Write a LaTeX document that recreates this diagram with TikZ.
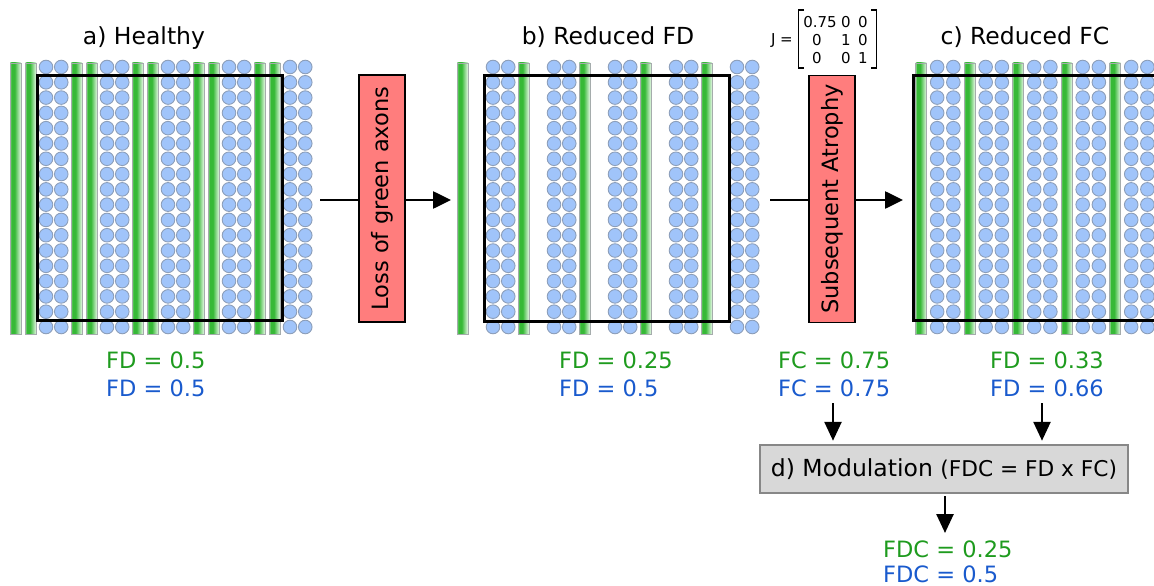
\documentclass[tikz,border=0pt]{standalone}
\usepackage{fontspec}
\setmainfont{DejaVu Sans}
\usetikzlibrary{arrows.meta}
\definecolor{barA}{RGB}{160,220,160}
\definecolor{barB}{RGB}{55,185,55}
\definecolor{barC}{RGB}{232,248,232}
\definecolor{baredge}{RGB}{165,172,172}
\definecolor{circfill}{RGB}{160,196,250}
\definecolor{circedge}{RGB}{140,158,185}
\definecolor{boxred}{RGB}{255,125,125}
\definecolor{modfill}{RGB}{216,216,216}
\definecolor{modedge}{RGB}{135,135,135}
\definecolor{fdgreen}{RGB}{30,155,30}
\definecolor{fdblue}{RGB}{25,90,205}
\pgfdeclarehorizontalshading{barshade}{100bp}{color(0bp)=(barA); color(25bp)=(barA); color(31bp)=(barB); color(46bp)=(barB); color(75bp)=(barC); color(100bp)=(barC)}
\newcommand\axbar[1]{\shadedraw[shading=barshade,draw=baredge,line width=0.9pt] (#1-5.5,63) rectangle (#1+5.5,334);}
\newcommand\circcol[1]{\foreach \rr in {0,...,17}{\filldraw[fill=circfill,draw=circedge,line width=0.9pt] (#1,67+\rr*15.294) circle[radius=6.8];}}
\begin{document}
\begin{tikzpicture}[x=1pt,y=-1pt,
 title/.style={font=\fontsize{23.5pt}{28pt}\selectfont, anchor=base, inner sep=0pt},
 val/.style={font=\fontsize{22.5pt}{27pt}\selectfont, anchor=base west, inner sep=0pt},
 redbox/.style={draw=black, line width=1.5pt, fill=boxred, rotate=90, minimum width=247pt, minimum height=46pt, inner sep=0pt, font=\fontsize{22.5pt}{27pt}\selectfont},
 arr/.style={line width=2.6pt, -{Triangle[length=18pt,width=17pt]}},
 arrv/.style={line width=2.6pt, -{Triangle[length=19pt,width=17pt]}},
 panelframe/.style={draw=black, line width=3pt},
 mat/.style={font=\fontsize{15pt}{18pt}\selectfont, inner sep=0pt, anchor=base}]
\useasboundingbox (0,0) rectangle (1154,586);
\clip (0,0) rectangle (1154,586);
% panel a
\foreach \k in {0,...,19}{
  \pgfmathtruncatemacro\m{mod(\k,4)}
  \pgfmathsetmacro\cx{15.5+15.25*\k}
  \ifnum\m<2 \axbar{\cx} \else \circcol{\cx} \fi
}
\draw[panelframe] (37,76) rectangle (282,320);
% panel b
\foreach \k in {0,...,19}{
  \pgfmathtruncatemacro\m{mod(\k,4)}
  \pgfmathsetmacro\cx{462.5+15.25*\k}
  \ifnum\m=0 \axbar{\cx} \else \ifnum\m>1 \circcol{\cx} \fi \fi
}
\draw[panelframe] (484,76) rectangle (729,321);
% panel c
\foreach \k in {0,...,15}{
  \pgfmathtruncatemacro\m{mod(\k,3)}
  \pgfmathsetmacro\cx{921+16.17*\k}
  \ifnum\m=0 \axbar{\cx} \else \circcol{\cx} \fi
}
\draw[panelframe] (913,76) rectangle (1170,320);
% titles
\node[title] (ta) at (144,45) {a) Healthy};
\node[title] (tb) at (608,45) {b) Reduced FD};
\node[title] (tc) at (1025,45) {c) Reduced FC};
% matrix
\node[mat, anchor=base east] (J) at (793,45) {J =};
\node[mat] (m11) at (820,27.5) {0.75};
\node[mat] (m12) at (846,27.5) {0};
\node[mat] (m13) at (863,27.5) {0};
\node[mat] (m21) at (817,45.5) {0};
\node[mat] (m22) at (846,45.5) {1};
\node[mat] (m23) at (863,45.5) {0};
\node[mat] (m31) at (817,63.5) {0};
\node[mat] (m32) at (846,63.5) {0};
\node[mat] (m33) at (863,63.5) {1};
\draw[line width=1.4pt] (804,10) -- (798.5,10) -- (798.5,68) -- (804,68);
\draw[line width=1.4pt] (871,10) -- (876.5,10) -- (876.5,68) -- (871,68);
% horizontal arrows with boxes
\coordinate (a1s) at (320,200);
\coordinate (a1e) at (451,200);
\draw[arr] (a1s) -- (a1e);
\node[redbox] (loss) at (382,198.5) {Loss of green axons};
\coordinate (a2s) at (770,200);
\coordinate (a2e) at (903,200);
\draw[arr] (a2s) -- (a2e);
\node[redbox] (atro) at (832,199) {Subsequent Atrophy};
% values
\node[val, text=fdgreen] (ag) at (106,368) {FD = 0.5};
\node[val, text=fdblue] (ab) at (106,396) {FD = 0.5};
\node[val, text=fdgreen] (bg) at (559,368) {FD = 0.25};
\node[val, text=fdblue] (bb) at (559,396) {FD = 0.5};
\node[val, text=fdgreen] (jg) at (778,368) {FC = 0.75};
\node[val, text=fdblue] (jb) at (778,396) {FC = 0.75};
\node[val, text=fdgreen] (cg) at (990,368) {FD = 0.33};
\node[val, text=fdblue] (cb) at (990,396) {FD = 0.66};
% modulation
\node[draw=modedge, fill=modfill, line width=2.5pt, minimum width=368pt, minimum height=48pt, inner sep=0pt] (mod) at (944,469)
  {\fontsize{23.5pt}{28pt}\selectfont d) Modulation \fontsize{21.7pt}{26pt}\selectfont(FDC = FD x FC)};
\coordinate (d1) at (833,403);
\coordinate (d2) at (1042,403);
\draw[arrv, shorten >=3pt] (d1) -- (d1 |- mod.north);
\draw[arrv, shorten >=3pt] (d2) -- (d2 |- mod.north);
\node[val, text=fdgreen] (dg) at (883,557) {FDC = 0.25};
\node[val, text=fdblue] (db) at (883,582.5) {FDC = 0.5};
\coordinate (d3) at (945,533);
\draw[arrv, shorten <=2pt] (d3 |- mod.south) -- (d3);
\end{tikzpicture}
\end{document}
